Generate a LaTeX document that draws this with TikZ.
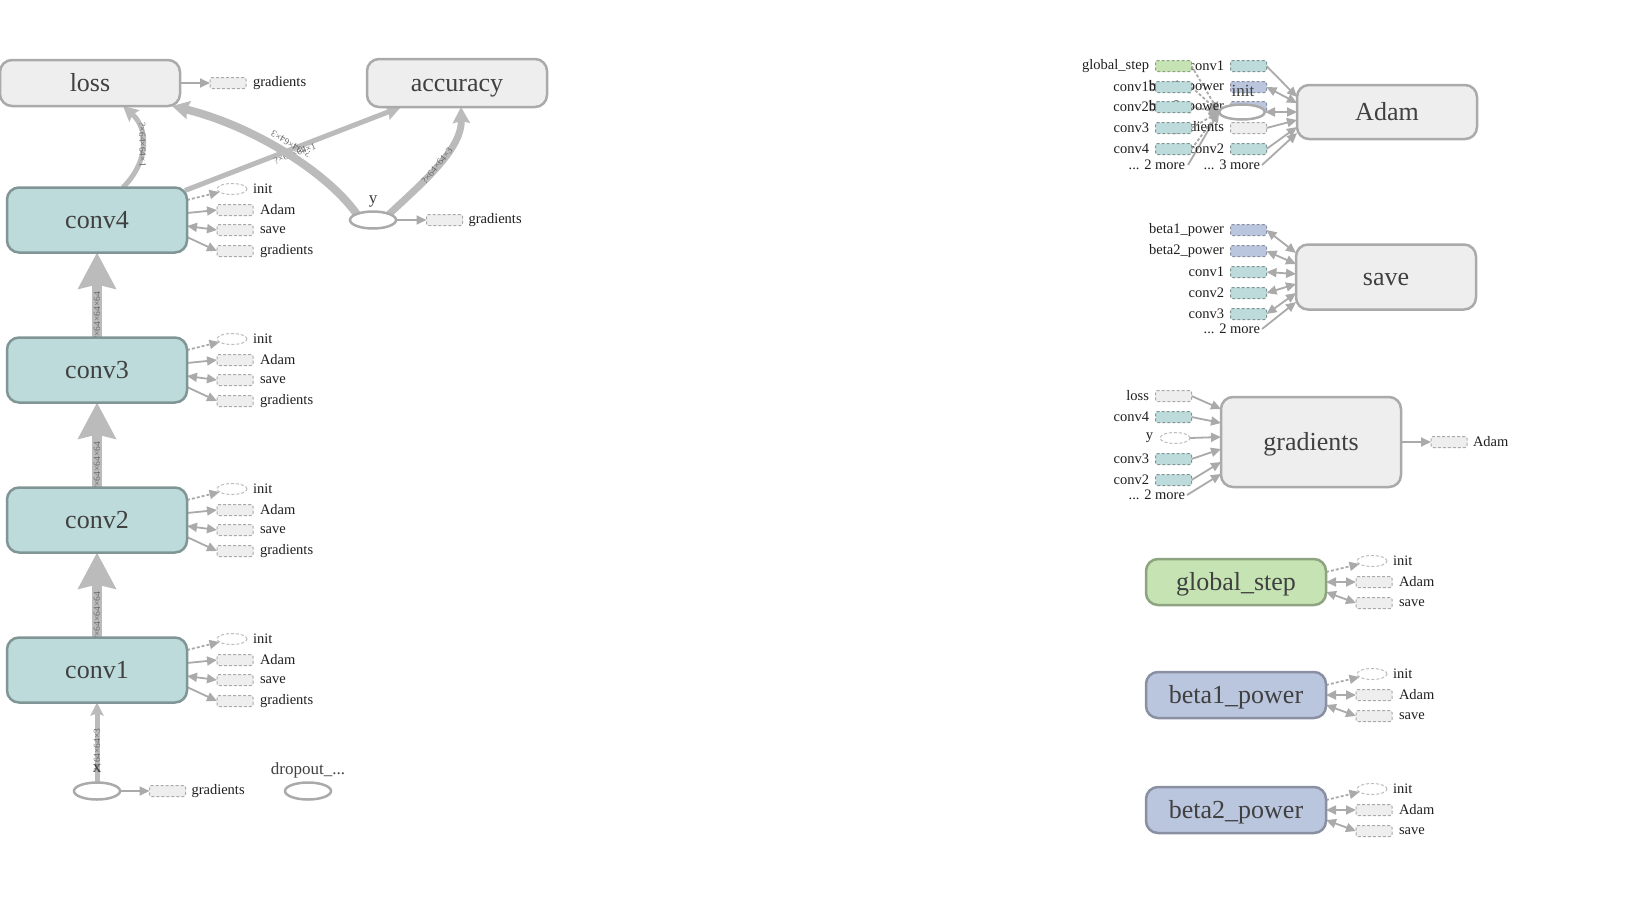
\documentclass[tikz,border=0pt]{standalone}
\usepackage{fontspec}
\setmainfont{Liberation Serif}
\usetikzlibrary{arrows.meta,shapes.geometric}
\pgfdeclarelayer{bg}
\pgfsetlayers{bg,main}

\definecolor{opfill}{HTML}{EEEEEE}
\definecolor{opline}{HTML}{AAAAAA}
\definecolor{varfill}{HTML}{BDDBDB}
\definecolor{varline}{HTML}{809696}
\definecolor{stepfill}{HTML}{C5E3B3}
\definecolor{stepline}{HTML}{8EA37F}
\definecolor{powfill}{HTML}{BAC5DE}
\definecolor{powline}{HTML}{8A90A2}
\definecolor{edgecol}{HTML}{BBBBBB}
\definecolor{auxcol}{HTML}{AAAAAA}
\definecolor{titlecol}{HTML}{404040}
\definecolor{shapecol}{HTML}{666666}

\tikzset{
  every node/.style={inner sep=0pt, outer sep=0pt},
  opnode/.style={rectangle, rounded corners=12pt, line width=2.5pt, draw=opline,
    fill=opfill, minimum width=180pt, text=titlecol, text height=21pt, text depth=4pt,
    font=\fontsize{26}{30}\selectfont},
  varnode/.style={opnode, draw=varline, fill=varfill},
  stepnode/.style={opnode, draw=stepline, fill=stepfill},
  pownode/.style={opnode, draw=powline, fill=powfill},
  phnode/.style={ellipse, draw=auxcol, line width=2.5pt, fill=white,
    minimum width=46pt, minimum height=17pt},
  phlbl/.style={text=titlecol, font=\fontsize{17}{20}\selectfont},
  auxbox/.style={rectangle, rounded corners=2pt, draw=auxcol, fill=opfill, line width=1pt,
    dash pattern=on 3pt off 2pt, minimum width=36pt, minimum height=11pt},
  tealbox/.style={auxbox, draw=varline, fill=varfill},
  greenbox/.style={auxbox, draw=stepline, fill=stepfill},
  bluebox/.style={auxbox, draw=powline, fill=powfill},
  auxell/.style={ellipse, draw=auxcol!80, line width=1pt, dash pattern=on 3pt off 2pt,
    fill=white, minimum width=30pt, minimum height=11pt},
  auxlbl/.style={anchor=west, text=black!88, font=\fontsize{14.5}{16}\selectfont},
  inlbl/.style={auxlbl, anchor=east},
  auxarr/.style={draw=auxcol, line width=1.8pt, -{Triangle[length=10pt,width=9pt]}},
  auxdash/.style={auxarr, dash pattern=on 3pt off 2pt},
  auxbi/.style={draw=auxcol, line width=1.8pt,
    {Triangle[length=10pt,width=9pt]}-{Triangle[length=10pt,width=9pt]}},
  bigflow/.style={draw=edgecol, line width=10pt, -{Stealth[length=36pt,width=37pt,inset=4pt]}},
  midflow/.style={draw=edgecol, line width=5pt, -{Stealth[length=15pt,width=15pt,inset=2pt]}},
  shplbl/.style={sloped, text=shapecol, font=\fontsize{9.5}{10}\selectfont},
}

% variables of the network: init, Adam, save, gradients
\newcommand{\convaux}[1]{%
  \node[auxell] (#1-i) at ([xshift=135pt,yshift=31pt]#1.center) {};
  \node[auxbox] (#1-a) at ([xshift=138pt,yshift=10pt]#1.center) {};
  \node[auxbox] (#1-s) at ([xshift=138pt,yshift=-10pt]#1.center) {};
  \node[auxbox] (#1-g) at ([xshift=138pt,yshift=-31pt]#1.center) {};
  \node[auxlbl] (#1-it) at ([xshift=6pt]#1-i.east) {init};
  \node[auxlbl] (#1-at) at ([xshift=7pt]#1-a.east) {Adam};
  \node[auxlbl] (#1-st) at ([xshift=7pt]#1-s.east) {save};
  \node[auxlbl] (#1-gt) at ([xshift=7pt]#1-g.east) {gradients};
  \begin{pgfonlayer}{bg}
    \draw[auxdash] ([yshift=20pt]#1.east) -- (#1-i);
    \draw[auxarr] ([yshift=7pt]#1.east) -- (#1-a.west);
    \draw[auxbi] ([yshift=-6pt]#1.east) -- (#1-s.west);
    \draw[auxarr] ([yshift=-17pt]#1.east) -- (#1-g.west);
  \end{pgfonlayer}
}

% optimizer state variables: init, Adam, save
\newcommand{\stateaux}[1]{%
  \node[auxell] (#1-i) at ([xshift=136pt,yshift=21pt]#1.center) {};
  \node[auxbox] (#1-a) at ([xshift=138pt]#1.center) {};
  \node[auxbox] (#1-s) at ([xshift=138pt,yshift=-21pt]#1.center) {};
  \node[auxlbl] (#1-it) at ([xshift=6pt]#1-i.east) {init};
  \node[auxlbl] (#1-at) at ([xshift=7pt]#1-a.east) {Adam};
  \node[auxlbl] (#1-st) at ([xshift=7pt]#1-s.east) {save};
  \begin{pgfonlayer}{bg}
    \draw[auxdash] ([yshift=10pt]#1.east) -- (#1-i);
    \draw[auxbi] (#1.east) -- (#1-a.west);
    \draw[auxbi] ([yshift=-10pt]#1.east) -- (#1-s.west);
  \end{pgfonlayer}
}

\begin{document}
\begin{tikzpicture}[x=1pt, y=-1pt]
\begin{pgfonlayer}{bg}
  \fill[white] (0,0) rectangle (1635,903);
\end{pgfonlayer}
\useasboundingbox (0,0) rectangle (1635,903);

% ---------------- main graph ----------------
\node[opnode, minimum height=46pt] (loss) at (90,83) {loss};
\node[opnode, minimum height=48pt] (accuracy) at (457,83) {accuracy};
\node[varnode, minimum height=65pt] (conv4) at (97,220) {conv4};
\node[varnode, minimum height=65pt] (conv3) at (97,370) {conv3};
\node[varnode, minimum height=65pt] (conv2) at (97,520) {conv2};
\node[varnode, minimum height=65pt] (conv1) at (97,670) {conv1};

\node[phnode] (y) at (373,220) {};
\node[phlbl] (ylbl) at (373,201) {y};
\node[phnode] (x) at (97,791) {};
\node[phnode] (dropout) at (308,791) {};
\node[phlbl] (droplbl) at (308,770) {dropout\_...};

\node[auxbox] (loss-g) at (228,83) {};
\node[auxlbl] (loss-gt) at ([xshift=7pt]loss-g.east) {gradients};
\node[auxbox] (y-g) at (444.5,220) {};
\node[auxlbl] (y-gt) at ([xshift=6pt]y-g.east) {gradients};
\node[auxbox] (x-g) at (167.5,791) {};
\node[auxlbl] (x-gt) at ([xshift=6pt]x-g.east) {gradients};

\convaux{conv4}
\convaux{conv3}
\convaux{conv2}
\convaux{conv1}

\begin{pgfonlayer}{bg}
  \draw[bigflow] (conv1.north) -- node[shplbl, pos=0.25] {?×64×64×64} (conv2.south);
  \draw[bigflow] (conv2.north) -- node[shplbl, pos=0.25] {?×64×64×64} (conv3.south);
  \draw[bigflow] (conv3.north) -- node[shplbl, pos=0.25] {?×64×64×64} (conv4.south);
  \draw[midflow, -{Stealth[length=13pt,width=13pt,inset=2pt]}] (x.north)
    -- node[shplbl, pos=0.4] {?×64×64×3} (conv1.south);
  \draw[midflow] ([xshift=26pt]conv4.north) .. controls (150,160) and (148,128)
    .. node[shplbl, pos=0.5] {?×64×64×1} ([xshift=33pt]loss.south);
  \draw[midflow] ([xshift=-2pt,yshift=-3pt]conv4.north east)
    -- node[shplbl, pos=0.5, below=2pt] {?×64×64×1} ([xshift=-56pt]accuracy.south);
  \draw[midflow, line width=8pt, -{Stealth[length=17pt,width=18pt,inset=2pt]}]
    (y.north west) .. controls (325,170) and (250,125)
    .. node[shplbl, allow upside down, pos=0.48, below=7pt] {?×64×64×3} ([xshift=82pt]loss.south);
  \draw[midflow, line width=7pt, -{Stealth[length=16pt,width=17pt,inset=2pt]}]
    (y.north east) .. controls (420,185) and (462,150)
    .. node[shplbl, pos=0.5] {?×64×64×3} ([xshift=4pt]accuracy.south);
  \draw[auxarr] (loss.east) -- (loss-g.west);
  \draw[auxarr] (y.east) -- (y-g.west);
  \draw[auxarr] (x.east) -- (x-g.west);
\end{pgfonlayer}
\node[phlbl] (xlbl) at (97,769) {x};

% ---------------- auxiliary nodes ----------------
\node[opnode, minimum height=54pt] (adam) at (1387,112) {Adam};
\node[opnode, minimum height=65pt] (save) at (1386,277) {save};
\node[opnode, minimum height=90pt] (grad) at (1311,442) {gradients};
\node[stepnode, minimum height=46pt] (gstep) at (1236,582) {global\_step};
\node[pownode, minimum height=46pt] (beta1) at (1236,695) {beta1\_power};
\node[pownode, minimum height=46pt] (beta2) at (1236,810) {beta2\_power};

% inputs of Adam: labels first, boxes over them
\node[inlbl] (aa1t) at (1149,66) {global\_step};
\node[inlbl] (aa2t) at (1156,87) {conv1b};
\node[inlbl] (aa3t) at (1156,107) {conv2b};
\node[inlbl] (aa4t) at (1149,128) {conv3};
\node[inlbl] (aa5t) at (1149,149) {conv4};
\node[inlbl] (aa6t) at (1185,165) {... 2 more};
\node[inlbl] (ab1t) at (1224,66) {conv1};
\node[inlbl] (ab2t) at (1224,87) {beta1\_power};
\node[inlbl] (ab3t) at (1224,107) {beta2\_power};
\node[inlbl] (ab4t) at (1224,128) {gradients};
\node[inlbl] (ab5t) at (1224,149) {conv2};
\node[inlbl] (ab6t) at (1260,165) {... 3 more};
\node[tealbox] (ab1) at (1248.5,66) {};
\node[bluebox] (ab2) at (1248.5,87) {};
\node[bluebox] (ab3) at (1248.5,107) {};
\node[auxbox] (ab4) at (1248.5,128) {};
\node[tealbox] (ab5) at (1248.5,149) {};
\node[greenbox] (aa1) at (1173.5,66) {};
\node[tealbox] (aa2) at (1173.5,87) {};
\node[tealbox] (aa3) at (1173.5,107) {};
\node[tealbox] (aa4) at (1173.5,128) {};
\node[tealbox] (aa5) at (1173.5,149) {};
\node[phnode, minimum height=15pt] (ainit) at (1242,112) {};
\node[phlbl] (ainitlbl) at (1243,91) {init};
\begin{pgfonlayer}{bg}
  \draw[auxarr] (ab1.east) -- ([yshift=15pt]adam.west);
  \draw[auxbi] (ab2.east) -- ([yshift=9pt]adam.west);
  \draw[auxbi] (ainit.east) -- (adam.west);
  \draw[auxarr] (ab4.east) -- ([yshift=-8pt]adam.west);
  \draw[auxarr] (ab5.east) -- ([yshift=-15pt]adam.west);
  \draw[auxarr] ([xshift=2pt]ab6t.east) -- ([yshift=-21pt]adam.west);
  \draw[auxdash] (aa1.east) -- (ainit.west);
  \draw[auxdash] (aa2.east) -- (ainit.west);
  \draw[auxdash] (aa3.east) -- (ainit.west);
  \draw[auxdash] (aa4.east) -- (ainit.west);
  \draw[auxdash] (aa5.east) -- (ainit.west);
  \draw[auxarr] ([xshift=3pt]aa6t.east) -- (ainit.west);
\end{pgfonlayer}

% inputs of save
\node[inlbl] (sv1t) at (1224,230) {beta1\_power};
\node[inlbl] (sv2t) at (1224,251) {beta2\_power};
\node[inlbl] (sv3t) at (1224,272) {conv1};
\node[inlbl] (sv4t) at (1224,293) {conv2};
\node[inlbl] (sv5t) at (1224,314) {conv3};
\node[inlbl] (sv6t) at (1260,329) {... 2 more};
\node[bluebox] (sv1) at (1248.5,230) {};
\node[bluebox] (sv2) at (1248.5,251) {};
\node[tealbox] (sv3) at (1248.5,272) {};
\node[tealbox] (sv4) at (1248.5,293) {};
\node[tealbox] (sv5) at (1248.5,314) {};
\begin{pgfonlayer}{bg}
  \draw[auxbi] (sv1.east) -- ([yshift=24pt]save.west);
  \draw[auxbi] (sv2.east) -- ([yshift=13pt]save.west);
  \draw[auxbi] (sv3.east) -- ([yshift=3pt]save.west);
  \draw[auxbi] (sv4.east) -- ([yshift=-7pt]save.west);
  \draw[auxbi] (sv5.east) -- ([yshift=-16pt]save.west);
  \draw[auxarr] ([xshift=2pt]sv6t.east) -- ([yshift=-25pt]save.west);
\end{pgfonlayer}

% inputs and output of gradients
\node[inlbl] (gr1t) at (1149,396) {loss};
\node[inlbl] (gr2t) at (1149,417) {conv4};
\node[inlbl] (gr3t) at (1153,438) {y};
\node[inlbl] (gr4t) at (1149,459) {conv3};
\node[inlbl] (gr5t) at (1149,480) {conv2};
\node[inlbl] (gr6t) at (1185,495) {... 2 more};
\node[auxbox] (gr1) at (1173.5,396) {};
\node[tealbox] (gr2) at (1173.5,417) {};
\node[auxell] (gr3) at (1175,438) {};
\node[tealbox] (gr4) at (1173.5,459) {};
\node[tealbox] (gr5) at (1173.5,480) {};
\node[auxbox] (gr-a) at (1449,442) {};
\node[auxlbl] (gr-at) at ([xshift=6pt]gr-a.east) {Adam};
\begin{pgfonlayer}{bg}
  \draw[auxarr] (gr1.east) -- ([yshift=33pt]grad.west);
  \draw[auxarr] (gr2.east) -- ([yshift=19pt]grad.west);
  \draw[auxarr] (gr3.east) -- ([yshift=5pt]grad.west);
  \draw[auxarr] (gr4.east) -- ([yshift=-7pt]grad.west);
  \draw[auxarr] (gr5.east) -- ([yshift=-20pt]grad.west);
  \draw[auxarr] ([xshift=2pt]gr6t.east) -- ([yshift=-32pt]grad.west);
  \draw[auxarr] (grad.east) -- (gr-a.west);
\end{pgfonlayer}

\stateaux{gstep}
\stateaux{beta1}
\stateaux{beta2}
\end{tikzpicture}
\end{document}
